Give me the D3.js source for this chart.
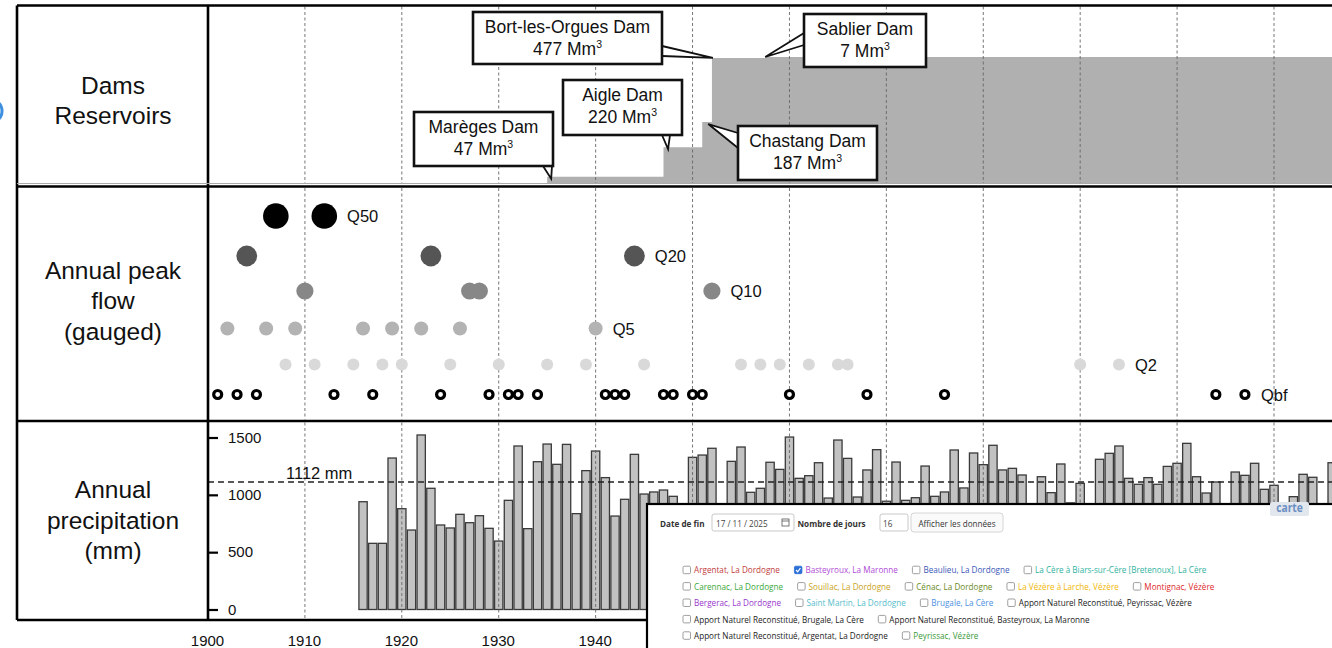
<!DOCTYPE html>
<html><head><meta charset="utf-8">
<script src="https://cdn.jsdelivr.net/npm/d3@7"></script>
<style>body{margin:0;background:#fff;}svg{display:block;}</style>
</head><body>
<svg id="c" width="1332" height="648"></svg>
<script>
// ---------------- DATA ----------------
const gridYears = [1910,1920,1930,1940,1950,1960,1970,1980,1990,2000,2010];
const axisYears = [1900,1910,1920,1930,1940];

const damNames   = ["Marèges Dam","Aigle Dam","Chastang Dam","Bort-les-Orgues Dam","Sablier Dam"];
const damYears   = [1935,1947,1951,1952,1957.5];
const damVolumes = [47,220,187,477,7];

const floodClasses = ["Q50","Q20","Q10","Q5","Q2","Qbf"];
const q50Years = [1907,1912];
const q20Years = [1904,1923,1944];
const q10Years = [1910,1927,1928,1952];
const q5Years  = [1902,1906,1909,1916,1919,1922,1926,1940];
const q2Years  = [1908,1911,1915,1918,1920,1925,1930,1935,1939,1945,1955,1957,1959,1962,1965,1966,1990,1994];
const qbfYears = [1901,1903,1905,1913,1917,1924,1929,1931,1932,1934,1941,1942,1943,1947,1948,1950,1951,1960,1968,1976,2004,2007];

const precipYears = [1916,1917,1918,1919,1920,1921,1922,1923,1924,1925,1926,1927,1928,1929,1930,1931,1932,1933,1934,1935,1936,1937,1938,1939,1940,1941,1942,1943,1944,1945,1946,1947,1948,1949,1950,1951,1952,1953,1954,1955,1956,1957,1958,1959,1960,1961,1962,1963,1964,1965,1966,1967,1968,1969,1970,1971,1972,1973,1974,1975,1976,1977,1978,1979,1980,1981,1982,1983,1984,1985,1986,1987,1988,1989,1990,1991,1992,1993,1994,1995,1996,1997,1998,1999,2000,2001,2002,2003,2004,2005,2006,2007,2008,2009,2010,2011,2012,2013,2014,2015,2016];
const precipValues = [940,577,577,1321,879,693,1522,1057,737,711,830,757,818,708,597,952,1426,705,1289,1443,1266,1440,836,1211,1382,1150,815,961,1353,1007,1025,1042,987,880,1327,1347,1406,850,1292,1417,1022,1057,1284,1222,1504,1144,1167,1280,972,1478,1318,981,1217,1394,944,1286,952,975,1251,987,1025,1391,1060,1365,1263,1432,1217,1231,1173,890,1158,1019,1269,930,1100,860,1310,1362,1426,1144,1092,1150,1092,1248,1275,1449,1158,1016,1112,820,1199,1170,1275,1048,1083,870,984,1179,1153,900,1280];
const precipMean = 1112;
const precipTicks = [0,500,1000,1500];

const panelLabels1 = ["Dams","Reservoirs"];
const panelLabels2 = ["Annual peak","flow","(gauged)"];
const panelLabels3 = ["Annual","precipitation","(mm)"];

// overlay (web form screenshot)
const formDate = "17 / 11 / 2025";
const formDays = "16";
const stationRows = [
  [["Argentat, La Dordogne","#c23b3b",false],["Basteyroux, La Maronne","#b04ad6",true],["Beaulieu, La Dordogne","#3a58b8",false],["La Cère à Biars-sur-Cère [Bretenoux], La Cère","#2fb3a0",false]],
  [["Carennac, La Dordogne","#3aa83a",false],["Souillac, La Dordogne","#c9a31c",false],["Cénac, La Dordogne","#6b8a1e",false],["La Vézère à Larche, Vézère","#f2b705",false],["Montignac, Vézère","#e02828",false]],
  [["Bergerac, La Dordogne","#9a35cc",false],["Saint Martin, La Dordogne","#55bccb",false],["Brugale, La Cère","#4b8fe0",false],["Apport Naturel Reconstitué, Peyrissac, Vézère","#222",false]],
  [["Apport Naturel Reconstitué, Brugale, La Cère","#222",false],["Apport Naturel Reconstitué, Basteyroux, La Maronne","#222",false]],
  [["Apport Naturel Reconstitué, Argentat, La Dordogne","#222",false],["Peyrissac, Vézère","#3a9a3a",false]]
];

// ---------------- LAYOUT ----------------
const svg = d3.select("#c");
const FONT = "'Liberation Sans', Arial, sans-serif";
const L = 17, SEP = 208, R = 1332;
const T = 5.5, B1 = 186.5, B2 = 421, B3 = 620;

const x = d3.scaleLinear().domain([1900, 2010]).range([208, 1274]);

// ---------- Panel 1: dams ----------
const cum = d3.cumsum(damVolumes);
const yD = d3.scaleLinear().domain([0, cum[cum.length-1]]).range([183, 57]);
const stepData = damYears.map((yr,i)=>[yr, cum[i]]).concat([[2030, cum[cum.length-1]]]);
svg.append("path")
  .attr("d", d3.area().x(d=>x(d[0])).y0(184).y1(d=>yD(d[1])).curve(d3.curveStepAfter)(stepData))
  .attr("fill","#b0b0b0");

function grid(y0,y1){
  svg.append("g").selectAll("line").data(gridYears).join("line")
    .attr("x1",d=>x(d)).attr("x2",d=>x(d)).attr("y1",y0).attr("y2",y1)
    .attr("stroke","#666").attr("stroke-width",0.9).attr("stroke-dasharray","3,2.5");
}
grid(T+1, 184);
grid(B1+1.5, B2-1.5);

// callouts
const callouts = [
  {box:[414,112,139,54], base:[[543,166],[552,166]], off:[4,2]},
  {box:[563,80,119,55],  base:[[662,135],[670,135]], off:[4.6,2]},
  {box:[738,126,139,54], base:[[738,133],[738,148]], off:[6,2]},
  {box:[473,12,189,52],  base:[[662,46],[662,56]],   off:[1,0]},
  {box:[804,14,122,53],  base:[[804,33],[804,45]],   off:[0,0]}
];
const cg = svg.append("g");
callouts.forEach((c,i)=>{
  const tip = [x(damYears[i]) + c.off[0], yD(cum[i]) + c.off[1]];
  cg.append("path").attr("d", d3.line()([c.base[0], tip, c.base[1]]))
    .attr("fill","#fff").attr("stroke","#111").attr("stroke-width",1.8).attr("stroke-linejoin","miter");
  const [bx,by,bw,bh] = c.box;
  cg.append("rect").attr("x",bx).attr("y",by).attr("width",bw).attr("height",bh)
    .attr("fill","#fff").attr("stroke","#111").attr("stroke-width",2.6);
  const cx = bx + bw/2;
  cg.append("text").attr("x",cx).attr("y",by+21).attr("text-anchor","middle")
    .attr("font-family",FONT).attr("font-size",17.5).attr("fill","#111").text(damNames[i]);
  const t2 = cg.append("text").attr("x",cx).attr("y",by+43).attr("text-anchor","middle")
    .attr("font-family",FONT).attr("font-size",17.5).attr("fill","#111");
  t2.append("tspan").text(damVolumes[i] + " Mm");
  t2.append("tspan").attr("font-size",10.5).attr("dy",-7).text("3");
});

// ---------- Panel 2: peak flows ----------
const rowY = d3.scaleOrdinal().domain(floodClasses).range([216,256,291,328.5,364.5,394.5]);
const rad  = d3.scaleOrdinal().domain(floodClasses).range([12.8,10.4,8.6,7,6,4]);
const fillC = d3.scaleOrdinal().domain(floodClasses).range(["#000","#555","#878787","#b3b3b3","#d9d9d9","#fff"]);
const floodSets = [q50Years,q20Years,q10Years,q5Years,q2Years,qbfYears];
const pg = svg.append("g");
floodClasses.forEach((cls,k)=>{
  const yrs = floodSets[k];
  pg.append("g").selectAll("circle").data(yrs).join("circle")
    .attr("cx",d=>x(d)).attr("cy",rowY(cls)).attr("r",rad(cls))
    .attr("fill",fillC(cls))
    .attr("stroke", cls==="Qbf" ? "#000" : "none")
    .attr("stroke-width", cls==="Qbf" ? 3.2 : 0);
  const last = d3.max(yrs);
  pg.append("text").attr("x", x(last) + rad(cls) + (cls==="Qbf"?12:10)).attr("y", rowY(cls)+6)
    .attr("font-family",FONT).attr("font-size",16.5).attr("fill","#111").text(cls);
});

// ---------- Panel 3: precipitation ----------
const yP = d3.scaleLinear().domain([0,1500]).range([609.5,437.5]);
const bw = 8.3;
svg.append("g").selectAll("rect").data(precipYears).join("rect")
  .attr("x",(d)=>x(d)-bw/2).attr("width",bw)
  .attr("y",(d,i)=>yP(precipValues[i])).attr("height",(d,i)=>yP(0)-yP(precipValues[i]))
  .attr("fill","#c2c2c2").attr("stroke","#3a3a3a").attr("stroke-width",1.3);
grid(B2+1.5, B3-1.5);

svg.append("line").attr("x1",SEP).attr("x2",R).attr("y1",yP(precipMean)).attr("y2",yP(precipMean))
  .attr("stroke","#222").attr("stroke-width",1.3).attr("stroke-dasharray","6,4");
svg.append("text").attr("x",286).attr("y",yP(precipMean)-3).attr("font-family",FONT)
  .attr("font-size",16.5).attr("fill","#111").text(precipMean + " mm");

const ya = svg.append("g").attr("transform",`translate(${SEP},0)`)
  .call(d3.axisRight(yP).tickValues(precipTicks).tickSize(10).tickPadding(10).tickFormat(d3.format("d")));
ya.select(".domain").remove();
ya.selectAll("line").attr("stroke","#000").attr("stroke-width",2.2);
ya.selectAll("text").attr("font-family",FONT).attr("font-size",15).attr("fill","#111");

const xa = svg.append("g").attr("transform",`translate(-1,${B3})`)
  .call(d3.axisBottom(x).tickValues(axisYears).tickSize(0).tickPadding(15).tickFormat(d3.format("d")));
xa.select(".domain").remove();
xa.selectAll("text").attr("font-family",FONT).attr("font-size",15).attr("fill","#111");

// ---------- frame ----------
const fr = svg.append("g").attr("stroke","#000").attr("stroke-width",2.6);
fr.append("line").attr("x1",L).attr("x2",R).attr("y1",T).attr("y2",T);
fr.append("line").attr("x1",L).attr("x2",R).attr("y1",B1).attr("y2",B1);
fr.append("line").attr("x1",L).attr("x2",R).attr("y1",B2).attr("y2",B2);
fr.append("line").attr("x1",L).attr("x2",R).attr("y1",B3).attr("y2",B3);
fr.append("line").attr("x1",L).attr("x2",L).attr("y1",T).attr("y2",B3);
fr.append("line").attr("x1",SEP).attr("x2",SEP).attr("y1",T).attr("y2",B3);
svg.append("line").attr("x1",L).attr("x2",R).attr("y1",183.5).attr("y2",183.5).attr("stroke","#aaa").attr("stroke-width",1);

function leftLabel(lines, baselines){
  lines.forEach((s,i)=>svg.append("text").attr("x",113).attr("y",baselines[i]).attr("text-anchor","middle")
    .attr("font-family",FONT).attr("font-size",24.5).attr("fill","#111").text(s));
}
leftLabel(panelLabels1,[93.5,124]);
leftLabel(panelLabels2,[278.5,309,339.5]);
leftLabel(panelLabels3,[497.5,528.5,558.5]);

svg.append("circle").attr("cx",-10).attr("cy",111).attr("r",12).attr("fill","none")
  .attr("stroke","#3d8fe0").attr("stroke-width",3);

// ---------- overlay: web form screenshot ----------
const OX = 647, OY = 504;
const og = svg.append("g");
og.append("rect").attr("x",OX).attr("y",OY).attr("width",R-OX+20).attr("height",200)
  .attr("fill","#fff").attr("stroke","#000").attr("stroke-width",2.2);
const OF = "'Open Sans', 'Noto Sans', sans-serif";
const FS = 9.5;
const probe = og.append("text").attr("font-family",OF).attr("font-size",FS).text(stationRows[0][0][0]);
const sx = 86 / probe.node().getComputedTextLength();
probe.remove();
function otext(tx, ty, s, color, bold, anchor, size){
  const t = og.append("text").attr("transform",`translate(${tx},${ty}) scale(${sx},1)`)
    .attr("font-family",OF).attr("font-size",size||FS).attr("fill",color)
    .attr("font-weight",bold?"bold":"normal").attr("text-anchor",anchor||"start").text(s);
  return t.node().getComputedTextLength()*sx;
}
// "carte" button (cut by the screenshot edge)
og.append("rect").attr("x",1270).attr("y",502).attr("width",39).attr("height",14).attr("rx",2).attr("fill","#e2e7ee");
otext(1289.5, 512, "carte", "#6c90c2", true, "middle", 12);
const r0 = 526.5;
otext(660, r0, "Date de fin", "#333", true);
og.append("rect").attr("x",712).attr("y",514).attr("width",82).attr("height",17).attr("rx",2)
  .attr("fill","#fff").attr("stroke","#bbb").attr("stroke-width",0.8);
otext(716, r0, formDate, "#444", false);
og.append("rect").attr("x",782).attr("y",519).attr("width",7).attr("height",7).attr("fill","none").attr("stroke","#555").attr("stroke-width",0.8);
og.append("line").attr("x1",782).attr("x2",789).attr("y1",521).attr("y2",521).attr("stroke","#555").attr("stroke-width",0.8);
otext(797.5, r0, "Nombre de jours", "#333", true);
og.append("rect").attr("x",880).attr("y",514).attr("width",28).attr("height",17).attr("rx",2)
  .attr("fill","#fff").attr("stroke","#bbb").attr("stroke-width",0.8);
otext(883, r0, formDays, "#444", false);
og.append("rect").attr("x",911).attr("y",513).attr("width",92).attr("height",19).attr("rx",3)
  .attr("fill","#fafafa").attr("stroke","#ccc").attr("stroke-width",0.8);
otext(957, r0, "Afficher les données", "#333", false, "middle");
stationRows.forEach((row,ri)=>{
  const cy = 570 + ri*16.4;
  let cx = 683;
  row.forEach(([label,color,checked])=>{
    og.append("rect").attr("x",cx).attr("y",cy-3.8).attr("width",7.5).attr("height",7.5).attr("rx",1.3)
      .attr("fill",checked?"#2b6fd6":"#fff").attr("stroke",checked?"#2b6fd6":"#888").attr("stroke-width",0.8);
    if(checked){
      og.append("path").attr("d",`M${cx+1.6},${cy} L${cx+3.2},${cy+1.8} L${cx+6},${cy-1.8}`)
        .attr("fill","none").attr("stroke","#fff").attr("stroke-width",1.2);
    }
    const w = otext(cx+11, cy+3.3, label, color, false);
    cx = cx + 11 + w + 14.5;
  });
});
</script>
</body></html>
